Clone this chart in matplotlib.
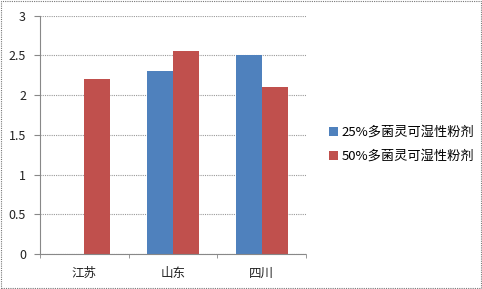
import matplotlib
matplotlib.use("Agg")
import matplotlib.pyplot as plt
import numpy as np
from matplotlib.patches import Rectangle

plt.rcParams["font.family"] = ["Noto Sans CJK SC", "DejaVu Sans"]

regions = ["江苏", "山东", "四川"]
series_names = ["25%多菌灵可湿性粉剂", "50%多菌灵可湿性粉剂"]
values_25 = [0, 2.3, 2.5]
values_50 = [2.2, 2.55, 2.1]
colors = ["#4F81BD", "#C0504D"]

fig = plt.figure(figsize=(4.82, 2.89), dpi=100)
ax = fig.add_axes([0.083, 0.121, 0.552, 0.825])

x = np.arange(len(regions))
width = 0.293
ax.bar(x - width / 2, values_25, width, color=colors[0], label=series_names[0])
ax.bar(x + width / 2, values_50, width, color=colors[1], label=series_names[1])

ax.set_xlim(-0.5, len(regions) - 0.5)
ax.set_ylim(0, 3)
ax.set_yticks(np.arange(0, 3.01, 0.5))
ax.set_yticklabels(["0", "0.5", "1", "1.5", "2", "2.5", "3"])
ax.set_xticks(x)
ax.set_xticklabels(regions)
ax.set_xticks(np.arange(-0.5, len(regions), 1), minor=True)
ax.tick_params(axis="x", which="major", length=0, pad=9)
ax.tick_params(axis="x", which="minor", length=3, color="#888888")
ax.tick_params(axis="y", length=4, color="#888888", pad=6)
ax.tick_params(labelsize=9, labelcolor="#222222")

ax.grid(axis="y", color="#999999", linestyle=(0, (1, 1)), linewidth=0.8)
ax.set_axisbelow(True)
for side in ["top", "right"]:
    ax.spines[side].set_visible(False)
for side in ["left", "bottom"]:
    ax.spines[side].set_color("#888888")
    ax.spines[side].set_linestyle((0, (1, 1)))
    ax.spines[side].set_linewidth(0.8)

ax.legend(loc="center left", bbox_to_anchor=(1.085, 0.46), frameon=False,
          fontsize=9.5, handlelength=0.7, handleheight=0.7, handletextpad=0.3,
          labelspacing=0.85, borderaxespad=0, borderpad=0)

fig.patches.append(Rectangle((0.003, 0.003), 0.994, 0.994, transform=fig.transFigure,
                             fill=False, edgecolor="#777777", linewidth=0.8,
                             linestyle=(0, (1, 1))))

fig.savefig("out.png", dpi=100)
